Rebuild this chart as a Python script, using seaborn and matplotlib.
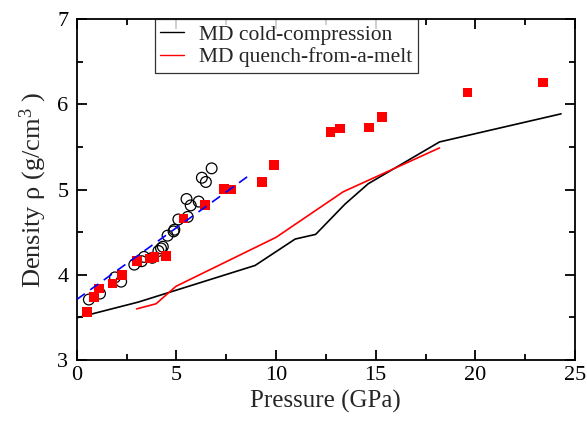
import pandas as pd
import matplotlib
matplotlib.use('Agg')
import matplotlib.pyplot as plt
import seaborn as sns
from matplotlib.ticker import MultipleLocator

# MD cold-compression curve
cold_p = [0.0, 3.09, 8.95, 10.96, 11.99, 13.46, 14.63, 18.2, 24.3]
cold_rho = [3.495, 3.68, 4.11, 4.42, 4.475, 4.83, 5.07, 5.56, 5.89]

# MD quench-from-a-melt curve
melt_p = [3.01, 3.98, 4.98, 10.0, 13.37, 18.2]
melt_rho = [3.60, 3.66, 3.865, 4.44, 4.975, 5.49]

# linear fit (blue dashed)
fit_p = [0.0, 8.7]
fit_rho = [3.71, 5.175]

# red squares
sq_p = [0.53, 0.88, 1.12, 1.79, 2.28, 3.04, 3.68, 3.90, 4.48, 5.35, 6.43,
        7.40, 7.74, 9.29, 9.90, 12.74, 13.22, 14.67, 15.33, 19.6, 23.4]
sq_rho = [3.565, 3.74, 3.84, 3.90, 3.995, 4.16, 4.19, 4.21, 4.22, 4.66, 4.82,
          5.01, 5.00, 5.09, 5.29, 5.68, 5.72, 5.73, 5.85, 6.14, 6.26]

# open circles
circ_p = [0.61, 1.17, 1.92, 2.23, 2.89, 3.26, 3.38, 3.79, 4.10, 4.23, 4.32,
          4.56, 4.86, 4.90, 5.10, 5.57, 5.51, 5.72, 6.12, 6.28, 6.48, 6.77]
circ_rho = [3.71, 3.78, 3.97, 3.92, 4.12, 4.16, 4.21, 4.20, 4.28, 4.31, 4.33,
            4.46, 4.51, 4.53, 4.65, 4.68, 4.89, 4.815, 4.86, 5.14, 5.09, 5.25]

sns.set_theme(style='ticks')
plt.rcParams['font.family'] = ['Liberation Serif', 'DejaVu Serif']
plt.rcParams['mathtext.fontset'] = 'custom'
plt.rcParams['mathtext.rm'] = 'Liberation Serif'
plt.rcParams['mathtext.it'] = 'Liberation Serif:italic'

fig = plt.figure(figsize=(5.87, 4.21), dpi=100)
ax = fig.add_axes([76.7 / 587, 1 - 360 / 421, (575 - 76.7) / 587, (360 - 19.3) / 421])

cold = pd.DataFrame({'p': cold_p, 'rho': cold_rho})
melt = pd.DataFrame({'p': melt_p, 'rho': melt_rho})
fit = pd.DataFrame({'p': fit_p, 'rho': fit_rho})
sq = pd.DataFrame({'p': sq_p, 'rho': sq_rho})
circ = pd.DataFrame({'p': circ_p, 'rho': circ_rho})

sns.scatterplot(data=circ, x='p', y='rho', ax=ax, marker='o', s=60,
                facecolor='none', edgecolor='black', linewidth=0.9, legend=False, zorder=3)
sns.scatterplot(data=sq, x='p', y='rho', ax=ax, marker='s', s=48,
                color='#ff0000', edgecolor='none', legend=False, zorder=4)
sns.lineplot(data=fit, x='p', y='rho', ax=ax, color='#0000ff', linewidth=1.2,
             sort=False, zorder=5)
ax.lines[-1].set_dashes([6, 4])
l1 = sns.lineplot(data=cold, x='p', y='rho', ax=ax, color='black', linewidth=1.2,
                  sort=False, zorder=2).lines[-1]
l2 = sns.lineplot(data=melt, x='p', y='rho', ax=ax, color='#ff0000', linewidth=1.2,
                  sort=False, zorder=2).lines[-1]

ax.set_xlim(0, 25)
ax.set_ylim(3, 7)
ax.xaxis.set_major_locator(MultipleLocator(5))
ax.xaxis.set_minor_locator(MultipleLocator(2.5))
ax.yaxis.set_major_locator(MultipleLocator(1))
ax.yaxis.set_minor_locator(MultipleLocator(0.5))
ax.tick_params(which='both', direction='in', top=True, right=True,
               labelsize=16, width=1.3, colors='black')
ax.tick_params(which='major', length=7)
ax.tick_params(which='minor', length=4)
ax.tick_params(axis='x', pad=4)
ax.tick_params(axis='y', pad=6)
for s in ax.spines.values():
    s.set_linewidth(1.3)
    s.set_color('black')

ax.set_xlabel('Pressure (GPa)', fontsize=18, labelpad=4)
ax.set_ylabel('Density \u03c1 (g/cm$^{3}$ )', fontsize=19, labelpad=6)

leg = ax.legend([l1, l2], ['MD cold-compression', 'MD quench-from-a-melt'],
                loc='upper left', bbox_to_anchor=(0.157, 1.0), fontsize=15.5,
                frameon=True, fancybox=False, handlelength=1.1, handletextpad=0.7,
                borderpad=0.25, labelspacing=0.12, borderaxespad=0)
leg.get_frame().set_edgecolor('black')
leg.get_frame().set_linewidth(0.9)
for h in leg.get_lines():
    h.set_linewidth(1.0)

fig.savefig('out.png', dpi=100)
